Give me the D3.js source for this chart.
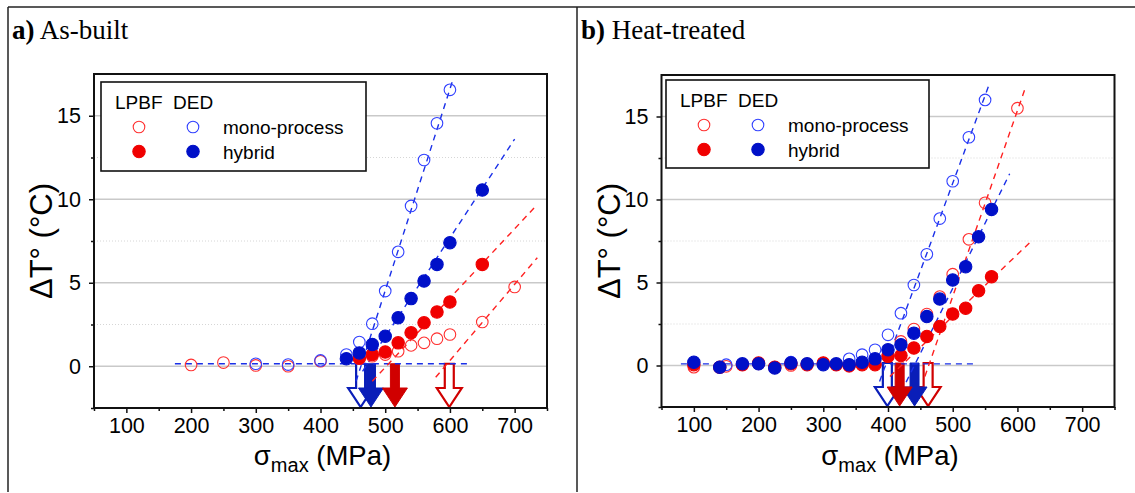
<!DOCTYPE html>
<html>
<head>
    <meta charset="utf-8">
    <script src="https://d3js.org/d3.v7.min.js"></script>
    <style>
        body{
            margin: 0;
            background: #fff;
        }
        svg text{
            font-family: Arial, "Liberation Sans", sans-serif;
            fill: #000;
        }
        .title{
            font-family: "Times New Roman", "Liberation Serif", serif !important;
            font-size: 27px;
        }
        .tick text{
            font-size: 21.5px;
        }
        .legend text{
            font-size: 19px;
        }
        .xlabel{
            font-size: 27.5px;
        }
        .ylabel{
            font-size: 31px;
        }
    </style>
    <title>Delta T vs sigma max</title>
</head>
<body>
    <div class="chart-wrap"></div>

    <script>
    // axis ticks
    var xTicks = [100, 200, 300, 400, 500, 600, 700],
        xMinorTicks = [50, 150, 250, 350, 450, 550, 650, 750],
        yTicks = [0, 5, 10, 15],
        yMinorTicks = [-2.5, 2.5, 7.5, 12.5];

    // a) As-built : [sigma max (MPa), delta T (°C)]
    var asBuiltLpbfMono = [[200,0.08],[250,0.22],[300,0.05],[350,0.0],[400,0.3],[460,0.45],[480,0.6],[500,0.7],
                           [520,0.9],[540,1.25],[560,1.4],[580,1.65],[600,1.9],[650,2.65],[700,4.75]];
    var asBuiltDedMono = [[300,0.15],[350,0.1],[400,0.35],[440,0.7],[460,1.45],[480,2.55],[500,4.5],[520,6.85],
                          [540,9.6],[560,12.35],[580,14.55],[600,16.55]];
    var asBuiltLpbfHybrid = [[460,0.5],[480,0.7],[500,0.85],[520,1.4],[540,2.0],[560,2.6],[580,3.25],[600,3.85],[650,6.1]];
    var asBuiltDedHybrid = [[440,0.45],[460,0.8],[480,1.3],[500,1.8],[520,2.9],[540,4.05],[560,5.1],[580,6.1],
                            [600,7.4],[650,10.55]];

    // fit lines [x1, y1, x2, y2]
    var asBuiltBaseline = [175, 0.15, 632, 0.15];
    var asBuiltFitLpbfMono = [578, -0.66, 735, 6.5];
    var asBuiltFitDedMono = [455, -0.9, 605, 17.2];
    var asBuiltFitLpbfHybrid = [480, -0.9, 733, 9.6];
    var asBuiltFitDedHybrid = [465, -0.3, 700, 13.6];

    // onset stress arrows
    var asBuiltOnset = [462, 478, 515, 599]; // DED mono, DED hybrid, LPBF hybrid, LPBF mono

    // b) Heat-treated
    var heatLpbfMono = [[100,-0.1],[150,-0.05],[175,0.05],[200,0.1],[225,-0.1],[250,0.0],[275,0.1],[300,0.15],
                        [320,0.05],[340,-0.05],[360,0.1],[380,0.2],[420,1.45],[440,2.2],[460,3.1],[480,4.15],
                        [500,5.5],[525,7.6],[550,9.8],[600,15.5]];
    var heatDedMono = [[150,0.05],[250,0.2],[300,0.1],[340,0.4],[360,0.65],[380,0.95],[400,1.85],[420,3.15],
                       [440,4.85],[460,6.7],[480,8.85],[500,11.1],[525,13.75],[550,16.0]];
    var heatLpbfHybrid = [[100,0.05],[140,-0.1],[175,0.05],[200,0.15],[225,-0.1],[250,0.1],[275,0.05],[300,0.15],
                          [320,0.05],[340,0.0],[360,0.05],[380,0.05],[400,0.55],[420,0.6],[440,1.05],[460,1.75],
                          [480,2.35],[500,3.1],[520,3.45],[540,4.5],[560,5.35]];
    var heatDedHybrid = [[100,0.2],[140,-0.1],[175,0.1],[200,0.1],[225,-0.15],[250,0.15],[275,0.1],[300,0.05],
                         [320,0.1],[340,0.05],[360,0.2],[380,0.4],[400,0.95],[420,1.25],[440,1.95],[460,2.95],
                         [480,4.0],[500,5.15],[520,5.95],[540,7.75],[560,9.4]];

    var heatBaseline = [80, 0.1, 537, 0.1];
    var heatFitLpbfMono = [457, -0.66, 612, 16.7];
    var heatFitDedMono = [387, -0.96, 557, 17.0];
    var heatFitLpbfHybrid = [403, -0.66, 619, 7.4];
    var heatFitDedHybrid = [428, -1.0, 588, 11.55];

    var heatOnset = [399, 441, 418, 462]; // DED mono, DED hybrid, LPBF hybrid, LPBF mono

    var colors = {
        redOpen: "#ff3030",
        blueOpen: "#3040ff",
        redFill: "#f00000",
        blueFill: "#0010c8",
        redLine: "#ff2020",
        blueLine: "#1a30e8",
        redArrow: "#d00000",
        blueArrow: "#0a1eb8"
    };

    var w = 1135, h = 493;
    var svg = d3.select(".chart-wrap").append("svg")
        .attr("width", w)
        .attr("height", h);

    // outer frame
    svg.append("line").attr("x1", 8).attr("y1", 7).attr("x2", w).attr("y2", 7)
        .attr("stroke", "#222").attr("stroke-width", 1.5);
    svg.append("line").attr("x1", 8).attr("y1", 7).attr("x2", 8).attr("y2", 492)
        .attr("stroke", "#222").attr("stroke-width", 1.5);
    svg.append("line").attr("x1", 577).attr("y1", 7).attr("x2", 577).attr("y2", 492)
        .attr("stroke", "#222").attr("stroke-width", 1.5);

    var panels = [
        {
            label: "a)", name: " As-built", titleX: 12,
            left: 94, top: 74, right: 547, bottom: 408,
            legendX: 101, legendY: 82, legendW: 265, legendH: 89,
            series: [asBuiltLpbfMono, asBuiltDedMono, asBuiltLpbfHybrid, asBuiltDedHybrid],
            baseline: asBuiltBaseline,
            fits: [asBuiltFitLpbfMono, asBuiltFitDedMono, asBuiltFitLpbfHybrid, asBuiltFitDedHybrid],
            onset: asBuiltOnset
        },
        {
            label: "b)", name: " Heat-treated", titleX: 581,
            left: 661.5, top: 75, right: 1114.5, bottom: 407,
            legendX: 666, legendY: 80, legendW: 263, legendH: 88,
            series: [heatLpbfMono, heatDedMono, heatLpbfHybrid, heatDedHybrid],
            baseline: heatBaseline,
            fits: [heatFitLpbfMono, heatFitDedMono, heatFitLpbfHybrid, heatFitDedHybrid],
            onset: heatOnset
        }
    ];

    // series order: LPBF mono, DED mono, LPBF hybrid, DED hybrid
    var markerStyle = [
        {fill: "none", stroke: colors.redOpen},
        {fill: "none", stroke: colors.blueOpen},
        {fill: colors.redFill, stroke: colors.redFill},
        {fill: colors.blueFill, stroke: colors.blueFill}
    ];
    var lineColor = [colors.redLine, colors.blueLine, colors.redLine, colors.blueLine];
    // arrows: DED mono, DED hybrid, LPBF hybrid, LPBF mono
    var arrowStyle = [
        {open: true, color: colors.blueArrow},
        {open: false, color: colors.blueArrow},
        {open: false, color: colors.redArrow},
        {open: true, color: colors.redArrow}
    ];

    panels.forEach(function (p, pi) {
        var x = d3.scaleLinear().domain([50, 750]).range([p.left, p.right]);
        var y = d3.scaleLinear().domain([-2.5, 17.5]).range([p.bottom, p.top]);

        var title = svg.append("text").attr("class", "title")
            .attr("x", p.titleX).attr("y", 39);
        title.append("tspan").attr("font-weight", "bold").text(p.label);
        title.append("tspan").text(p.name);

        var clipId = "clip" + pi;
        svg.append("clipPath").attr("id", clipId)
            .append("rect")
            .attr("x", p.left).attr("y", p.top)
            .attr("width", p.right - p.left).attr("height", p.bottom - p.top);

        // grid
        var grid = svg.append("g");
        grid.selectAll(".major").data(yTicks).enter().append("line")
            .attr("x1", p.left).attr("x2", p.right)
            .attr("y1", function (d) { return y(d); })
            .attr("y2", function (d) { return y(d); })
            .attr("stroke", "#c9c9c9").attr("stroke-width", 1.3);
        grid.selectAll(".minor").data(yMinorTicks.slice(1)).enter().append("line")
            .attr("x1", p.left).attr("x2", p.right)
            .attr("y1", function (d) { return y(d); })
            .attr("y2", function (d) { return y(d); })
            .attr("stroke", "#d6d6d6").attr("stroke-width", 1)
            .attr("stroke-dasharray", "1,2");

        var plot = svg.append("g").attr("clip-path", "url(#" + clipId + ")");

        // onset arrows
        var open = [], filled = [];
        p.onset.forEach(function (v, i) {
            (arrowStyle[i].open ? open : filled).push({v: v, s: arrowStyle[i]});
        });
        var y0 = y(0.15), y1 = p.bottom - 1;
        function arrowPath(d) {
            var cx = x(d.v), hy = y1 - 19;
            return "M" + (cx - 4.5) + "," + y0 + "L" + (cx + 4.5) + "," + y0 +
                "L" + (cx + 4.5) + "," + hy + "L" + (cx + 12.5) + "," + hy +
                "L" + cx + "," + y1 + "L" + (cx - 12.5) + "," + hy +
                "L" + (cx - 4.5) + "," + hy + "Z";
        }
        plot.selectAll(".arrow").data(open.concat(filled)).enter().append("path")
            .attr("d", arrowPath)
            .attr("fill", function (d) { return d.s.open ? "#fff" : d.s.color; })
            .attr("stroke", function (d) { return d.s.color; })
            .attr("stroke-width", function (d) { return d.s.open ? 2.2 : 1; })
            .attr("stroke-linejoin", "miter");

        // fit lines
        var lines = [{f: p.baseline, c: colors.blueLine}];
        p.fits.forEach(function (f, i) { lines.push({f: f, c: lineColor[i]}); });
        plot.selectAll(".fit").data(lines).enter().append("line")
            .attr("x1", function (d) { return x(d.f[0]); })
            .attr("y1", function (d) { return y(d.f[1]); })
            .attr("x2", function (d) { return x(d.f[2]); })
            .attr("y2", function (d) { return y(d.f[3]); })
            .attr("stroke", function (d) { return d.c; })
            .attr("stroke-width", 1.4)
            .attr("stroke-dasharray", "6,5");

        // points
        p.series.forEach(function (s, i) {
            plot.selectAll(".pt" + i).data(s).enter().append("circle")
                .attr("cx", function (d) { return x(d[0]); })
                .attr("cy", function (d) { return y(d[1]); })
                .attr("r", markerStyle[i].fill === "none" ? 5.8 : 6.2)
                .attr("fill", markerStyle[i].fill)
                .attr("stroke", markerStyle[i].stroke)
                .attr("stroke-width", 1.1);
        });

        // axes
        svg.append("g").attr("transform", "translate(0," + p.bottom + ")")
            .call(d3.axisBottom(x).tickValues(xTicks).tickSize(5).tickPadding(5).tickFormat(d3.format("d")));
        svg.append("g").attr("transform", "translate(0," + p.bottom + ")")
            .call(d3.axisBottom(x).tickValues(xMinorTicks).tickSize(3).tickFormat(""));
        svg.append("g").attr("transform", "translate(" + p.left + ",0)")
            .call(d3.axisLeft(y).tickValues(yTicks).tickSize(5).tickPadding(8).tickFormat(d3.format("d")));
        svg.append("g").attr("transform", "translate(" + p.left + ",0)")
            .call(d3.axisLeft(y).tickValues(yMinorTicks).tickSize(3).tickFormat(""));
        svg.selectAll(".domain").remove();
        svg.selectAll(".tick line").attr("stroke", "#111").attr("stroke-width", 1.5);

        // frame
        svg.append("rect")
            .attr("x", p.left).attr("y", p.top)
            .attr("width", p.right - p.left).attr("height", p.bottom - p.top)
            .attr("fill", "none").attr("stroke", "#111").attr("stroke-width", 2);

        // axis labels
        var xl = svg.append("text").attr("class", "xlabel")
            .attr("x", (p.left + p.right) / 2 + 2).attr("y", 465)
            .attr("text-anchor", "middle");
        xl.append("tspan").text("σ");
        xl.append("tspan").attr("dy", 7).attr("font-size", "20px").text("max");
        xl.append("tspan").attr("dy", -7).text(" (MPa)");

        svg.append("text").attr("class", "ylabel")
            .attr("transform", "translate(" + (p.left - 42) + "," + ((p.top + p.bottom) / 2) + ") rotate(-90)")
            .attr("text-anchor", "middle")
            .text("ΔT° (°C)");

        // legend
        var lg = svg.append("g").attr("class", "legend")
            .attr("transform", "translate(" + p.legendX + "," + p.legendY + ")");
        lg.append("rect").attr("width", p.legendW).attr("height", p.legendH)
            .attr("fill", "#fff").attr("stroke", "#111").attr("stroke-width", 1.6);
        lg.append("text").attr("x", 14).attr("y", 27).text("LPBF");
        lg.append("text").attr("x", 72).attr("y", 27).text("DED");
        var rows = [{name: "mono-process", idx: [0, 1]}, {name: "hybrid", idx: [2, 3]}];
        rows.forEach(function (r, ri) {
            var cy = 45 + ri * 24.5;
            r.idx.forEach(function (si, k) {
                lg.append("circle").attr("cx", 38 + k * 54).attr("cy", cy)
                    .attr("r", markerStyle[si].fill === "none" ? 5.8 : 6.2)
                    .attr("fill", markerStyle[si].fill)
                    .attr("stroke", markerStyle[si].stroke)
                    .attr("stroke-width", 1.1);
            });
            lg.append("text").attr("x", 122).attr("y", cy + 7).text(r.name);
        });
    });
    </script>
</body>
</html>
